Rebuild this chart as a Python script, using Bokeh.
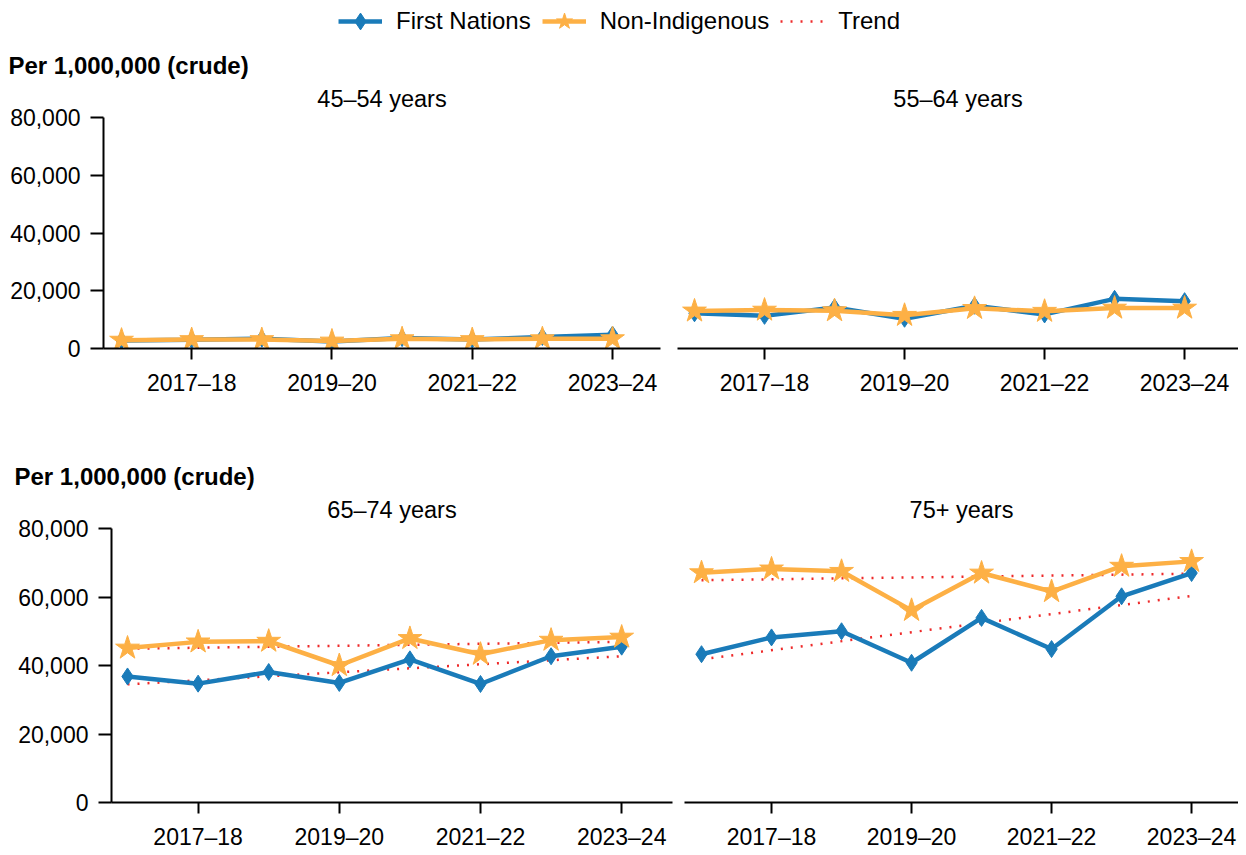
from bokeh.plotting import figure
from bokeh.layouts import column, row
from bokeh.models import Range1d, FixedTicker, NumeralTickFormatter, Title, Legend, LegendItem
from bokeh.embed import file_html
from bokeh.resources import INLINE

# ---------------- data ----------------
years = ["2016–17", "2017–18", "2018–19", "2019–20", "2020–21", "2021–22", "2022–23", "2023–24"]
tick_years = ["2017–18", "2019–20", "2021–22", "2023–24"]
series_names = ["First Nations", "Non-Indigenous", "Trend"]
panel_titles = ["45–54 years", "55–64 years", "65–74 years", "75+ years"]
unit_label = "Per 1,000,000 (crude)"
y_ticks = [0, 20000, 40000, 60000, 80000]

fn_45_54 = [2800, 3000, 3400, 2400, 3600, 3100, 4000, 4800]
ni_45_54 = [2900, 3100, 3100, 2600, 3400, 3100, 3400, 3400]
fn_55_64 = [12200, 11300, 14200, 10300, 14800, 11800, 17200, 16400]
ni_55_64 = [13000, 13300, 13100, 11500, 13900, 12900, 14000, 14000]
fn_65_74 = [36800, 34700, 38100, 34900, 41800, 34600, 42700, 45500]
ni_65_74 = [45100, 46900, 47100, 40000, 47900, 43300, 47400, 48300]
fn_75 = [43300, 48200, 50000, 40800, 53900, 44800, 60200, 67000]
ni_75 = [67100, 68200, 67500, 56100, 67000, 61600, 69000, 70400]
# trend lines (first and last year values)
trend_fn_65_74 = [34500, 42700]
trend_ni_65_74 = [44900, 46900]
trend_fn_75 = [41800, 60300]
trend_ni_75 = [64900, 66800]

# ---------------- style ----------------
FONT = "Liberation Sans"
FS = "23px"
FS_T = "23.5px"
FS_U = "24px"
FS_L = "24px"
BLUE = "#1a7bb9"
ORANGE = "#fdb045"
RED = "#ee2a2a"

x_idx = list(range(len(years)))
tick_pos = [years.index(t) for t in tick_years]


def panel(title, fn, ni, tfn, tni, width, height, bl, br, bt, bb, xr, show_y, unit_offset, unit_standoff):
    p = figure(width=width, height=height, x_range=Range1d(*xr), y_range=Range1d(0, 80000),
               output_backend="svg", toolbar_location=None, title=None,
               min_border_left=bl, min_border_right=br, min_border_top=bt, min_border_bottom=bb)
    p.outline_line_color = None
    p.grid.visible = False
    p.background_fill_color = None
    p.border_fill_color = None

    if tfn is not None:
        p.line([x_idx[0], x_idx[-1]], tfn, line_color=RED, line_width=2.5, line_dash="2 8")
        p.line([x_idx[0], x_idx[-1]], tni, line_color=RED, line_width=2.5, line_dash="2 8")
    p.line(x_idx, fn, line_color=BLUE, line_width=4.5)
    p.scatter(x_idx, fn, marker="diamond", size=17, fill_color=BLUE, line_color=BLUE)
    p.line(x_idx, ni, line_color=ORANGE, line_width=4.5)
    p.scatter(x_idx, ni, marker="star", size=25, fill_color=ORANGE, line_color=ORANGE)

    xa = p.xaxis[0]
    xa.ticker = FixedTicker(ticks=tick_pos)
    xa.major_label_overrides = {i: years[i] for i in tick_pos}
    xa.minor_tick_line_color = None
    xa.major_tick_in = 0
    xa.major_tick_out = 11
    xa.axis_line_width = 2
    xa.major_tick_line_width = 2
    xa.major_label_text_font = FONT
    xa.major_label_text_font_size = FS
    xa.major_label_text_color = "black"
    xa.major_label_standoff = 10

    ya = p.yaxis[0]
    if show_y:
        ya.ticker = FixedTicker(ticks=y_ticks)
        ya.formatter = NumeralTickFormatter(format="0,0")
        ya.minor_tick_line_color = None
        ya.major_tick_in = 0
        ya.major_tick_out = 13
        ya.axis_line_width = 2
        ya.major_tick_line_width = 2
        ya.major_label_text_font = FONT
        ya.major_label_text_font_size = FS
        ya.major_label_text_color = "black"
        ya.major_label_standoff = 10
    else:
        ya.visible = False

    p.add_layout(Title(text=title, align="center", text_font=FONT, text_font_size=FS_T,
                       text_font_style="normal", text_color="black", standoff=12), "above")
    if unit_offset is not None:
        p.add_layout(Title(text=unit_label, align="left", offset=unit_offset, text_font=FONT,
                           text_font_size=FS_U, text_font_style="bold", text_color="black",
                           standoff=unit_standoff), "above")
    return p


# legend figure (glyphs drawn off-range so only the legend shows)
lg = figure(width=1238, height=42, x_range=Range1d(0, 1), y_range=Range1d(0, 1),
            output_backend="svg", toolbar_location=None, title=None,
            min_border_left=0, min_border_right=0, min_border_top=0, min_border_bottom=0)
lg.axis.visible = False
lg.grid.visible = False
lg.outline_line_color = None
off = [-10, -9]
r_fn_l = lg.line(off, off, line_color=BLUE, line_width=4.5)
r_fn_m = lg.scatter(off, off, marker="diamond", size=14, fill_color=BLUE, line_color=BLUE)
r_ni_l = lg.line(off, off, line_color=ORANGE, line_width=4.5)
r_ni_m = lg.scatter(off, off, marker="star", size=22, fill_color=ORANGE, line_color=ORANGE)
r_tr = lg.line(off, off, line_color=RED, line_width=2.5, line_dash="2 8")
legend = Legend(items=[LegendItem(label=series_names[0], renderers=[r_fn_l, r_fn_m]),
                       LegendItem(label=series_names[1], renderers=[r_ni_l, r_ni_m]),
                       LegendItem(label=series_names[2], renderers=[r_tr])],
                orientation="horizontal", location="center", border_line_color=None,
                background_fill_alpha=0, label_text_font=FONT, label_text_font_size=FS_L,
                label_text_color="black", label_height=24,
                glyph_width=44, glyph_height=42, label_standoff=14, spacing=11,
                padding=0, margin=0)
lg.add_layout(legend, "center")

tl = panel(panel_titles[0], fn_45_54, ni_45_54, None, None,
           668, 406, 103, 8, 75, 100, (-0.257, 7.684), True, -95, -2)
tr = panel(panel_titles[1], fn_55_64, ni_55_64, None, None,
           570, 406, 9, 0, 75, 100, (-0.243, 7.77), False, None, 0)
bl = panel(panel_titles[2], fn_65_74, ni_65_74, trend_fn_65_74, trend_ni_65_74,
           678, 404, 111, 6, 80, 50, (-0.227, 7.72), True, -97, -3)
br = panel(panel_titles[3], fn_75, ni_75, trend_fn_75, trend_ni_75,
           560, 404, 6, 0, 80, 50, (-0.243, 7.67), False, None, 0)

layout = column(lg, row(tl, tr), row(bl, br))
open("out.html", "w").write(file_html(layout, INLINE))
